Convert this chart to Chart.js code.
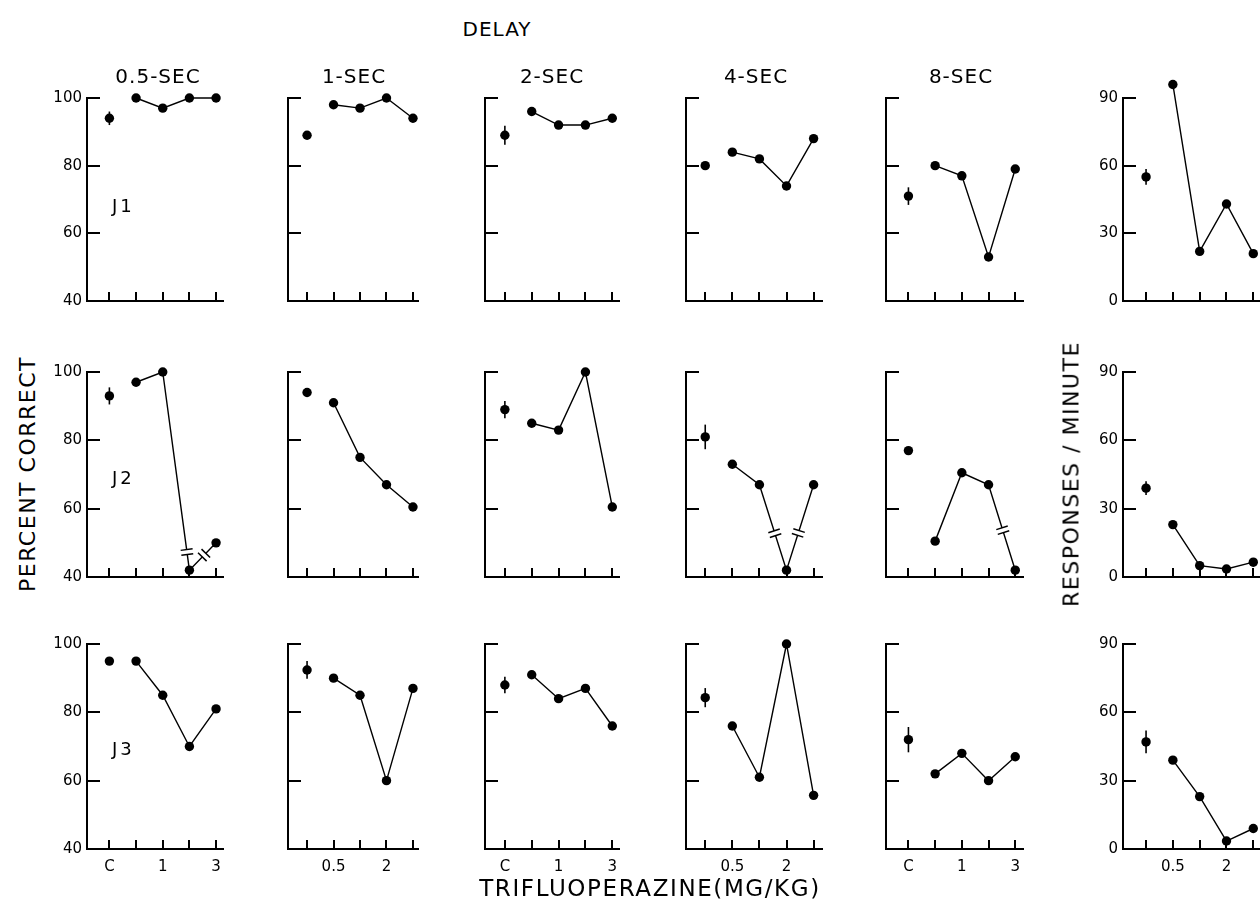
<!DOCTYPE html>
<html>
<head>
<meta charset="utf-8">
<title>Trifluoperazine - delayed matching</title>
<script src="https://cdn.jsdelivr.net/npm/chart.js@4.4.1/dist/chart.umd.min.js"></script>
<style>
    html, body { margin: 0; padding: 0; background: #fff; }
    #figure { position: relative; width: 1260px; height: 911px; overflow: hidden; background: #fff; }
    #figure canvas { position: absolute; }
    .label {
        position: absolute;
        font-family: 'DejaVu Sans', sans-serif;
        color: #000;
        white-space: nowrap;
        transform: translate(-50%, -50%);
    }
    .title { font-size: 20px; letter-spacing: 1px; }
    .axis-title { font-size: 22px; letter-spacing: 1.5px; }
    .bottom-title { font-size: 23px; letter-spacing: 1.6px; }
    .vertical { transform: translate(-50%, -50%) rotate(-90deg); }
    .subject { font-size: 18px; letter-spacing: 3px; transform: translate(0, -50%); }
</style>
</head>
<body>
<div id="figure"></div>
<script>
// categories
const delays = ['0.5-SEC', '1-SEC', '2-SEC', '4-SEC', '8-SEC'];
const subjects = ['J1', 'J2', 'J3'];
const doseLabels = ['C', '0.5', '1', '2', '3'];
const percentTicks = [40, 60, 80, 100];
const rateTicks = [0, 30, 60, 90];

// per subject: one value per panel (five delays, then responses/minute)
const j1Control = [94, 89, 89, 80, 71, 55];
const j1ControlErr = [2, 1, 2.8, 0, 2.6, 3.5];
const j1Drug = [
    [100, 97, 100, 100],
    [98, 97, 100, 94],
    [96, 92, 92, 94],
    [84, 82, 74, 88],
    [80, 77, 53, 79],
    [96, 22, 43, 21]
];

const j2Control = [93, 94, 89, 81, 77, 39];
const j2ControlErr = [2.5, 0, 2.5, 3.6, 0, 3];
const j2Drug = [
    [97, 100, 42, 50],
    [91, 75, 67, 60.5],
    [85, 83, 100, 60.5],
    [73, 67, 42, 67],
    [50.5, 70.5, 67, 42],
    [23, 5, 3.5, 6.5]
];
// broken segments: [dose index where segment starts, level of the break mark]
const j2Breaks = [[[2, 47.3], [3, 46.4]], [], [], [[2, 52.8], [3, 52.9]], [[3, 53.7]], []];

const j3Control = [95, 92.4, 88, 84.3, 72, 47];
const j3ControlErr = [0, 2.6, 2.4, 2.8, 3.7, 5];
const j3Drug = [
    [95, 85, 70, 81],
    [90, 85, 60, 87],
    [91, 84, 87, 76],
    [76, 61, 100, 55.7],
    [62, 68, 60, 67],
    [39, 23, 3.5, 9]
];

// page layout (pixels)
const COL_TICK0 = [109.3, 307.3, 505, 705, 908.3, 1145.7];
const COL_STEP = [26.6, 26.35, 26.9, 27.1, 26.7, 26.9];
const COL_XMIN = [-0.84, -0.72, -0.74, -0.71, -0.84, -0.86];
const COL_XMAX = [4.26, 4.19, 4.25, 4.31, 4.29, 4.25];
const ROW_TOP = [98, 372, 644];
const ROW_BOTTOM = [301, 577, 849];
const AXIS_W = 45;
const AXIS_H = 36;
const PAD_TOP = 30;
const PAD_RIGHT = 8;
const FONT = "'DejaVu Sans', sans-serif";

class DelayFigure {
    constructor(container) {
        this.container = container;
        this.charts = [];
        this.subjectData = [
            { control: j1Control, err: j1ControlErr, drug: j1Drug, breaks: [] },
            { control: j2Control, err: j2ControlErr, drug: j2Drug, breaks: j2Breaks },
            { control: j3Control, err: j3ControlErr, drug: j3Drug, breaks: [] }
        ];
        this.buildPanels();
        this.addLabels();
    }

    buildPanels() {
        subjects.forEach((name, row) => {
            for (let col = 0; col < 6; col++) {
                this.charts.push(this.createPanel(row, col));
            }
        });
    }

    createPanel(row, col) {
        const data = this.subjectData[row];
        const spine = Math.round(COL_TICK0[col] + COL_XMIN[col] * COL_STEP[col]);
        const right = Math.round(COL_TICK0[col] + COL_XMAX[col] * COL_STEP[col]);
        const w = right - spine + AXIS_W + PAD_RIGHT;
        const h = ROW_BOTTOM[row] - ROW_TOP[row] + PAD_TOP + AXIS_H;

        const canvas = document.createElement('canvas');
        canvas.width = w;
        canvas.height = h;
        canvas.style.width = w + 'px';
        canvas.style.height = h + 'px';
        canvas.style.left = (spine - AXIS_W) + 'px';
        canvas.style.top = (ROW_TOP[row] - PAD_TOP) + 'px';
        this.container.appendChild(canvas);

        const isRate = col === 5;
        const yTicks = isRate ? rateTicks : percentTicks;
        const control = data.control[col];
        const err = data.err[col];
        const drug = data.drug[col];
        const breaks = data.breaks[col] || [];
        const oddColumn = col % 2 === 0;
        let savedTop = null;

        const marks = {
            id: 'panelMarks',
            beforeDatasetsDraw: (chart) => {
                const { ctx, scales: { x, y } } = chart;
                // let points above the top tick (e.g. 96 resp/min) still be drawn
                savedTop = chart.chartArea.top;
                chart.chartArea.top -= PAD_TOP;
                if (!err) return;
                const px = x.getPixelForValue(0);
                ctx.save();
                ctx.strokeStyle = '#000';
                ctx.lineWidth = 1.6;
                ctx.beginPath();
                ctx.moveTo(px, y.getPixelForValue(control - err));
                ctx.lineTo(px, y.getPixelForValue(control + err));
                ctx.stroke();
                ctx.restore();
            },
            afterDatasetsDraw: (chart) => {
                const { ctx, scales: { x, y } } = chart;
                if (savedTop !== null) chart.chartArea.top = savedTop;
                breaks.forEach(([start, level]) => {
                    const x0 = x.getPixelForValue(start), y0 = y.getPixelForValue(drug[start - 1]);
                    const x1 = x.getPixelForValue(start + 1), y1 = y.getPixelForValue(drug[start]);
                    const ly = y.getPixelForValue(level);
                    const t = (ly - y0) / (y1 - y0);
                    const cx = x0 + t * (x1 - x0), cy = ly;
                    const len = Math.hypot(x1 - x0, y1 - y0);
                    const ux = (x1 - x0) / len, uy = (y1 - y0) / len;
                    const nx = -uy, ny = ux;
                    ctx.save();
                    ctx.strokeStyle = '#fff';
                    ctx.lineWidth = 4;
                    ctx.beginPath();
                    ctx.moveTo(cx - ux * 2.5, cy - uy * 2.5);
                    ctx.lineTo(cx + ux * 2.5, cy + uy * 2.5);
                    ctx.stroke();
                    ctx.strokeStyle = '#000';
                    ctx.lineWidth = 1.5;
                    [-2.5, 2.5].forEach(off => {
                        const bx = cx + ux * off, by = cy + uy * off;
                        ctx.beginPath();
                        ctx.moveTo(bx - nx * 6, by - ny * 6);
                        ctx.lineTo(bx + nx * 6, by + ny * 6);
                        ctx.stroke();
                    });
                    ctx.restore();
                });
            },
            afterDraw: (chart) => {
                // tick marks point into the plot
                const { ctx, chartArea, scales: { x, y } } = chart;
                ctx.save();
                ctx.strokeStyle = '#000';
                ctx.lineWidth = 2;
                ctx.beginPath();
                y.ticks.forEach(t => {
                    if (t.value === y.min) return;
                    const py = Math.round(y.getPixelForValue(t.value));
                    ctx.moveTo(chartArea.left, py);
                    ctx.lineTo(chartArea.left + 13, py);
                });
                x.ticks.forEach(t => {
                    const px = Math.round(x.getPixelForValue(t.value));
                    ctx.moveTo(px, chartArea.bottom);
                    ctx.lineTo(px, chartArea.bottom - 9);
                });
                ctx.stroke();
                ctx.restore();
            }
        };

        return new Chart(canvas, {
            type: 'scatter',
            data: {
                datasets: [
                    {
                        data: drug.map((v, i) => ({ x: i + 1, y: v })),
                        showLine: true,
                        borderColor: '#000',
                        borderWidth: 1.4,
                        backgroundColor: '#000',
                        pointRadius: 4.7,
                        pointBorderWidth: 0,
                        clip: false
                    },
                    {
                        data: [{ x: 0, y: control }],
                        backgroundColor: '#000',
                        pointRadius: 4.7,
                        pointBorderWidth: 0,
                        clip: false
                    }
                ]
            },
            options: {
                responsive: false,
                animation: false,
                devicePixelRatio: 1,
                events: [],
                layout: { padding: { top: PAD_TOP, right: PAD_RIGHT, left: 0, bottom: 0 } },
                plugins: {
                    legend: { display: false },
                    tooltip: { enabled: false }
                },
                scales: {
                    x: {
                        type: 'linear',
                        min: COL_XMIN[col],
                        max: COL_XMAX[col],
                        afterBuildTicks: (scale) => {
                            scale.ticks = doseLabels.map((d, i) => ({ value: i }));
                        },
                        afterFit: (scale) => { scale.height = AXIS_H; },
                        border: { display: true, color: '#000', width: 2 },
                        grid: { display: true, drawOnChartArea: false, drawTicks: false },
                        ticks: {
                            display: row === 2,
                            autoSkip: false,
                            maxRotation: 0,
                            padding: 9,
                            color: '#000',
                            font: { family: FONT, size: 15 },
                            callback: (value) => {
                                const idx = Math.round(value);
                                return (idx % 2 === 0) === oddColumn ? doseLabels[idx] : '';
                            }
                        }
                    },
                    y: {
                        type: 'linear',
                        min: yTicks[0],
                        max: yTicks[yTicks.length - 1],
                        afterBuildTicks: (scale) => {
                            scale.ticks = yTicks.map(v => ({ value: v }));
                        },
                        afterFit: (scale) => { scale.width = AXIS_W; },
                        border: { display: true, color: '#000', width: 2 },
                        grid: { display: true, drawOnChartArea: false, drawTicks: false },
                        ticks: {
                            display: col === 0 || col === 5,
                            padding: 5,
                            color: '#000',
                            font: { family: FONT, size: 15 },
                            callback: (value) => String(value)
                        }
                    }
                }
            },
            plugins: [marks]
        });
    }

    addText(text, x, y, className) {
        const el = document.createElement('div');
        el.className = 'label ' + className;
        el.textContent = text;
        el.style.left = x + 'px';
        el.style.top = y + 'px';
        this.container.appendChild(el);
        return el;
    }

    addLabels() {
        const titleX = [158, 354, 552, 756, 961];
        delays.forEach((d, i) => this.addText(d, titleX[i], 76, 'title'));
        this.addText('DELAY', 497, 29, 'title');
        this.addText('PERCENT CORRECT', 27, 474, 'axis-title vertical');
        this.addText('RESPONSES / MINUTE', 1071, 474, 'axis-title vertical');
        this.addText('TRIFLUOPERAZINE(MG/KG)', 650, 888, 'bottom-title');

        const subjectY = [205, 477, 748];
        subjects.forEach((s, i) => this.addText(s, 112, subjectY[i], 'subject'));
    }
}

document.addEventListener('DOMContentLoaded', () => {
    new DelayFigure(document.getElementById('figure'));
});
</script>
</body>
</html>
